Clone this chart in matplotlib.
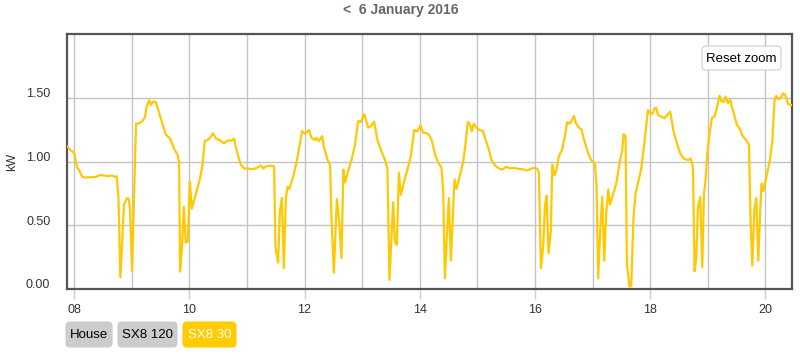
import matplotlib
matplotlib.use('Agg')
import matplotlib.pyplot as plt
from matplotlib.patches import FancyBboxPatch
from matplotlib.transforms import ScaledTranslation

plt.rcParams['font.family'] = ['Liberation Sans', 'DejaVu Sans']

# hour of day and power (kW) for the SX8 30 series
hours = [
    7.884, 7.943, 8.000, 8.057, 8.087, 8.144, 8.203, 8.290, 8.377, 8.463,
    8.579, 8.665, 8.706, 8.741, 8.770, 8.804, 8.868, 8.915, 8.950, 8.972,
    9.007, 9.076, 9.128, 9.186, 9.233, 9.256, 9.302, 9.332, 9.366, 9.418,
    9.476, 9.533, 9.592, 9.667, 9.736, 9.793, 9.823, 9.840, 9.870, 9.904,
    9.939, 9.974, 10.009, 10.043, 10.113, 10.188, 10.227, 10.269, 10.332, 10.373,
    10.413, 10.465, 10.523, 10.604, 10.662, 10.720, 10.778, 10.825, 10.894, 10.951,
    11.021, 11.078, 11.165, 11.241, 11.281, 11.339, 11.398, 11.472, 11.495, 11.542,
    11.571, 11.606, 11.641, 11.675, 11.703, 11.738, 11.802, 11.860, 11.918, 11.958,
    12.005, 12.075, 12.120, 12.179, 12.207, 12.248, 12.306, 12.340, 12.398, 12.444,
    12.467, 12.509, 12.561, 12.601, 12.641, 12.675, 12.705, 12.757, 12.814, 12.873,
    12.931, 12.977, 13.040, 13.104, 13.151, 13.208, 13.266, 13.335, 13.405, 13.439,
    13.474, 13.509, 13.538, 13.568, 13.602, 13.637, 13.672, 13.729, 13.787, 13.845,
    13.903, 13.955, 14.012, 14.059, 14.146, 14.203, 14.273, 14.332, 14.377, 14.406,
    14.436, 14.470, 14.505, 14.540, 14.575, 14.603, 14.637, 14.696, 14.753, 14.793,
    14.835, 14.870, 14.904, 14.939, 14.984, 15.036, 15.095, 15.140, 15.200, 15.245,
    15.304, 15.373, 15.431, 15.500, 15.557, 15.634, 15.720, 15.807, 15.865, 15.922,
    15.981, 16.038, 16.068, 16.102, 16.142, 16.172, 16.200, 16.235, 16.276, 16.299,
    16.339, 16.374, 16.415, 16.472, 16.519, 16.559, 16.599, 16.634, 16.675, 16.715,
    16.762, 16.807, 16.849, 16.894, 16.936, 16.981, 17.040, 17.068, 17.097, 17.132,
    17.167, 17.201, 17.236, 17.271, 17.300, 17.370, 17.410, 17.467, 17.514, 17.536,
    17.571, 17.595, 17.640, 17.670, 17.710, 17.745, 17.786, 17.844, 17.901, 17.960,
    17.988, 18.035, 18.075, 18.104, 18.134, 18.191, 18.248, 18.307, 18.347, 18.404,
    18.463, 18.521, 18.578, 18.655, 18.700, 18.741, 18.769, 18.799, 18.828, 18.868,
    18.903, 18.932, 18.960, 18.990, 19.029, 19.071, 19.116, 19.163, 19.203, 19.238,
    19.273, 19.307, 19.349, 19.389, 19.424, 19.464, 19.505, 19.550, 19.597, 19.637,
    19.684, 19.713, 19.741, 19.771, 19.806, 19.840, 19.875, 19.910, 19.932, 19.962,
    20.014, 20.071, 20.118, 20.158, 20.188, 20.227, 20.274, 20.304, 20.344, 20.391,
    20.448, 20.480,
]
kw = [
    1.116, 1.087, 1.068, 0.950, 0.932, 0.879, 0.874, 0.877, 0.879, 0.895,
    0.884, 0.890, 0.879, 0.884, 0.727, 0.092, 0.661, 0.711, 0.709, 0.622,
    0.142, 1.297, 1.299, 1.317, 1.349, 1.423, 1.480, 1.443, 1.470, 1.467,
    1.383, 1.297, 1.213, 1.179, 1.100, 1.055, 1.002, 0.136, 0.307, 0.643,
    0.365, 0.373, 0.845, 0.630, 0.740, 0.872, 0.963, 1.160, 1.173, 1.194,
    1.220, 1.179, 1.168, 1.142, 1.165, 1.163, 1.179, 1.081, 0.976, 0.945,
    0.945, 0.939, 0.947, 0.969, 0.945, 0.963, 0.966, 0.963, 0.333, 0.207,
    0.596, 0.714, 0.163, 0.701, 0.801, 0.785, 0.879, 0.990, 1.134, 1.239,
    1.218, 1.247, 1.186, 1.168, 1.186, 1.160, 1.199, 1.108, 1.016, 0.969,
    0.569, 0.128, 0.706, 0.538, 0.242, 0.937, 0.837, 0.924, 1.010, 1.121,
    1.317, 1.310, 1.370, 1.265, 1.276, 1.312, 1.168, 1.081, 1.002, 0.942,
    0.071, 0.412, 0.680, 0.373, 0.346, 0.911, 0.740, 0.845, 0.937, 1.042,
    1.247, 1.234, 1.283, 1.226, 1.218, 1.173, 1.042, 0.984, 0.950, 0.780,
    0.084, 0.412, 0.714, 0.223, 0.569, 0.858, 0.785, 0.890, 0.995, 1.134,
    1.310, 1.291, 1.236, 1.297, 1.265, 1.247, 1.239, 1.173, 1.094, 1.010,
    0.969, 0.945, 0.937, 0.958, 0.947, 0.950, 0.942, 0.937, 0.929, 0.942,
    0.950, 0.942, 0.911, 0.163, 0.333, 0.648, 0.732, 0.281, 0.465, 0.976,
    0.890, 0.937, 1.042, 1.094, 1.199, 1.310, 1.297, 1.317, 1.357, 1.297,
    1.265, 1.252, 1.173, 1.108, 1.047, 1.008, 0.984, 0.806, 0.084, 0.465,
    0.722, 0.223, 0.596, 0.780, 0.661, 0.766, 0.827, 0.984, 1.089, 1.215,
    1.199, 0.197, 0.018, 0.026, 0.565, 0.748, 0.827, 0.945, 1.155, 1.404,
    1.383, 1.372, 1.417, 1.423, 1.365, 1.352, 1.339, 1.372, 1.391, 1.234,
    1.142, 1.063, 1.024, 1.010, 1.024, 0.958, 0.139, 0.250, 0.643, 0.722,
    0.171, 0.748, 0.853, 1.063, 1.220, 1.344, 1.352, 1.431, 1.517, 1.470,
    1.467, 1.509, 1.457, 1.483, 1.417, 1.352, 1.286, 1.260, 1.207, 1.181,
    1.155, 1.128, 0.538, 0.183, 0.617, 0.714, 0.223, 0.630, 0.827, 0.769,
    0.879, 0.998, 1.155, 1.483, 1.514, 1.488, 1.504, 1.535, 1.522, 1.451,
    1.443, 1.443,
]

x_ticks = [8, 10, 12, 14, 16, 18, 20]
y_ticks = [0.0, 0.5, 1.0, 1.5]
buttons = ['House', 'SX8 120', 'SX8 30']

W, H = 800, 357
fig = plt.figure(figsize=(W / 100, H / 100), dpi=100)
ax = fig.add_axes([67 / W, 1 - 289 / H, (792 - 67) / W, (289 - 34) / H])

ax.plot(hours, kw, color='#ffc800', lw=1.6, zorder=3, solid_joinstyle='round')

ax.set_xlim(7.878, 20.46)
ax.set_ylim(0, 2.0)

ax.set_xticks(x_ticks)
ax.set_xticklabels(['%02d' % h for h in x_ticks])
ax.set_xticks(range(8, 21), minor=True)
ax.set_yticks(y_ticks)
ax.set_yticklabels(['%.2f' % v for v in y_ticks])

ax.grid(True, which='both', axis='x', color='#c4c4c4', lw=1.0)
ax.grid(True, which='major', axis='y', color='#c4c4c4', lw=1.0)
ax.tick_params(axis='x', which='major', length=7, width=1, color='#c0d0e0',
               labelsize=9, labelcolor='#333333', pad=4)
ax.tick_params(axis='x', which='minor', length=0)
ax.tick_params(axis='y', length=0, labelsize=9, labelcolor='#333333', pad=12)
for s in ax.spines.values():
    s.set_color('#555555')
    s.set_linewidth(1.6)

# y labels sit a little above their grid lines
shift = ScaledTranslation(0, 5 / 100, fig.dpi_scale_trans)
for lab in ax.get_yticklabels():
    lab.set_transform(lab.get_transform() + shift)

fig.text(12 / W, 1 - 162 / H, 'kW', rotation=90, ha='center', va='center',
         fontsize=9, color='#333333')

fig.text(401 / W, 1 - 10 / H, '<  6 January 2016', ha='center', va='center',
         fontsize=10, fontweight='bold', color='#666666')

# overlay in pixel space for the buttons
ov = fig.add_axes([0, 0, 1, 1], zorder=5)
ov.set_xlim(0, W)
ov.set_ylim(H, 0)
ov.axis('off')

def button(x0, x1, y0, y1, label, face, edge, tcolor):
    box = FancyBboxPatch((x0, y0), x1 - x0, y1 - y0,
                         boxstyle='round,pad=0,rounding_size=4',
                         fc=face, ec=edge, lw=0.8)
    ov.add_patch(box)
    ov.text((x0 + x1) / 2, (y0 + y1) / 2 + 0.5, label, ha='center', va='center',
            fontsize=9.5, color=tcolor)

button(66, 112, 322, 347, buttons[0], '#cccccc', '#cccccc', '#000000')
button(118, 177, 322, 347, buttons[1], '#cccccc', '#cccccc', '#000000')
button(183, 236, 322, 347, buttons[2], '#ffcc00', '#ffcc00', '#ffffff')
button(702, 781, 46, 70, 'Reset zoom', '#ffffff', '#cccccc', '#000000')

fig.savefig('out.png', dpi=100)
